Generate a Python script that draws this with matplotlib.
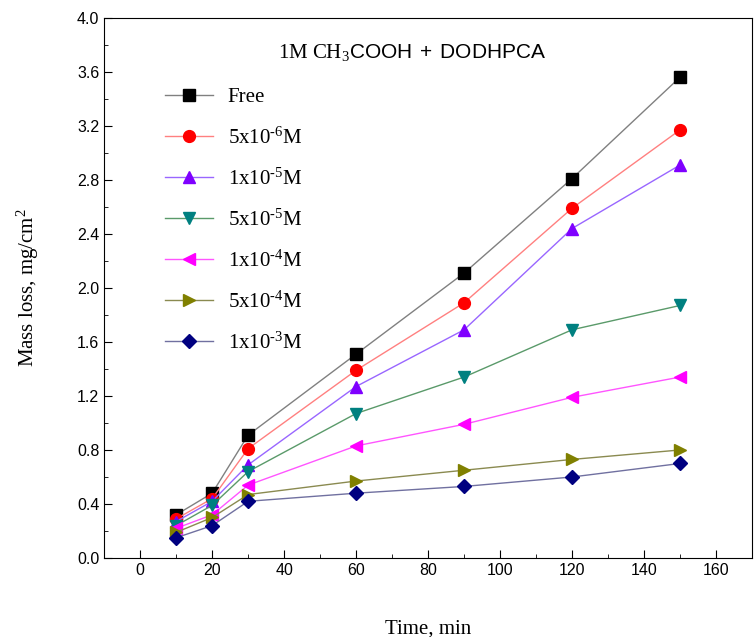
# Mass loss vs time for mild steel in 1M CH3COOH with DODHPCA inhibitor

import matplotlib.pyplot as plt
from matplotlib.ticker import MultipleLocator

plt.rcParams['mathtext.fontset'] = 'custom'
plt.rcParams['mathtext.rm'] = 'Liberation Serif'
plt.rcParams['mathtext.sf'] = 'Liberation Sans'
plt.rcParams['mathtext.it'] = 'Liberation Serif:italic'

# Data
time_min = [10, 20, 30, 60, 90, 120, 150]
free = [0.32, 0.48, 0.91, 1.51, 2.11, 2.81, 3.56]
c_5e6 = [0.29, 0.44, 0.81, 1.39, 1.89, 2.59, 3.17]
c_1e5 = [0.27, 0.42, 0.69, 1.27, 1.69, 2.44, 2.91]
c_5e5 = [0.24, 0.39, 0.64, 1.07, 1.34, 1.69, 1.87]
c_1e4 = [0.22, 0.32, 0.54, 0.83, 0.99, 1.19, 1.34]
c_5e4 = [0.19, 0.30, 0.47, 0.57, 0.65, 0.73, 0.80]
c_1e3 = [0.15, 0.24, 0.42, 0.48, 0.53, 0.60, 0.70]

labels = ['Free', r'5x10$^{\text{-6}}$M', r'1x10$^{\text{-5}}$M',
          r'5x10$^{\text{-5}}$M', r'1x10$^{\text{-4}}$M',
          r'5x10$^{\text{-4}}$M', r'1x10$^{\text{-3}}$M']
series = [free, c_5e6, c_1e5, c_5e5, c_1e4, c_5e4, c_1e3]
marker_colors = ['#000000', '#ff0000', '#7f00ff', '#008080',
                 '#ff00ff', '#808000', '#000080']
line_colors = ['#808080', '#ff8080', '#9966ff', '#5a9a6a',
               '#ff55ff', '#8a8a50', '#7070a0']
markers = ['s', 'o', '^', 'v', '<', '>', 'D']
sizes = [8, 8.5, 9, 9, 9, 9, 7.5]

fig = plt.figure(figsize=(7.55, 6.37), dpi=100)
ax = fig.add_axes([0.138, 0.124, 0.858, 0.848])

for y, lab, mc, lc, mk, ms in zip(series, labels, marker_colors,
                                  line_colors, markers, sizes):
    ax.plot(time_min, y, color=lc, linewidth=1.0, marker=mk,
            markersize=ms, markerfacecolor=mc, markeredgecolor=mc,
            label=lab)

ax.set_xlim(-10, 170)
ax.set_ylim(0, 4.0)
ax.xaxis.set_major_locator(MultipleLocator(20))
ax.xaxis.set_minor_locator(MultipleLocator(10))
ax.yaxis.set_major_locator(MultipleLocator(0.4))
ax.yaxis.set_minor_locator(MultipleLocator(0.2))
ax.tick_params(which='both', direction='in', top=False, right=False)
ax.tick_params(which='major', length=6)
ax.tick_params(which='minor', length=3)
for lbl in ax.get_xticklabels() + ax.get_yticklabels():
    lbl.set_fontfamily('Liberation Sans')
    lbl.set_fontsize(11.5)

ax.set_xlabel('Time, min', family='Liberation Serif', fontsize=15, labelpad=30)
ax.set_ylabel(r'Mass loss, mg/cm$^2$', family='Liberation Serif',
              fontsize=15, labelpad=26)

ax.text(0.268, 0.925, r'$\mathrm{1M\ CH_3}\mathsf{COOH\ +\ DODHPCA}$',
        transform=ax.transAxes, fontsize=15)

leg = ax.legend(loc='upper left', bbox_to_anchor=(0.065, 0.905),
                frameon=False, handlelength=2.3, labelspacing=0.95,
                handletextpad=0.7, prop={'family': 'Liberation Serif',
                                          'size': 15})

plt.savefig('out.png', dpi=100)
